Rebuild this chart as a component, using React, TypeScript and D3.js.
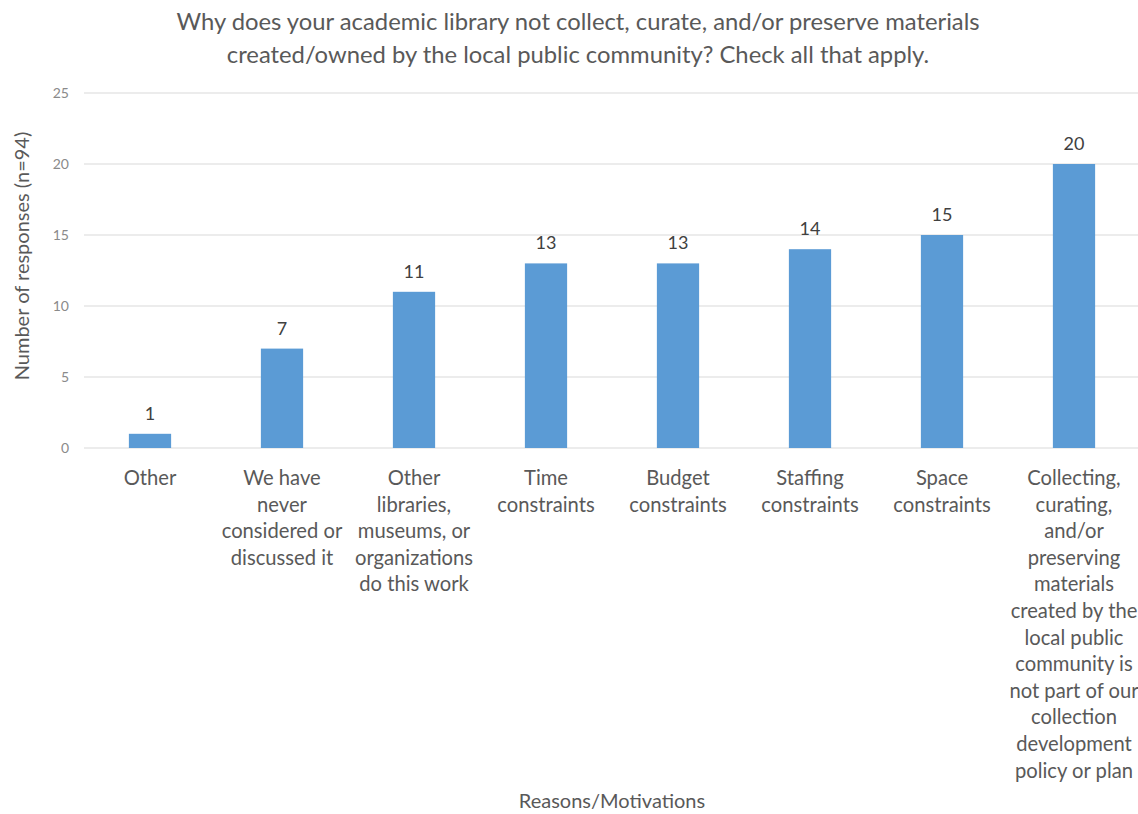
import React from "react";
import * as d3 from "d3";

const categories: string[][] = [
  ["Other"],
  ["We have", "never", "considered or", "discussed it"],
  ["Other", "libraries,", "museums, or", "organizations", "do this work"],
  ["Time", "constraints"],
  ["Budget", "constraints"],
  ["Staffing", "constraints"],
  ["Space", "constraints"],
  ["Collecting,", "curating,", "and/or", "preserving", "materials", "created by the", "local public", "community is", "not part of our", "collection", "development", "policy or plan"],
];
const values: number[] = [1, 7, 11, 13, 13, 14, 15, 20];
const yTicks: number[] = [0, 5, 10, 15, 20, 25];
const titleLines: string[] = [
  "Why does your academic library not collect, curate, and/or preserve materials",
  "created/owned by the local public community? Check all that apply.",
];
const yTitle = "Number of responses (n=94)";
const xTitle = "Reasons/Motivations";

const W = 1138;
const H = 814;
const FONT = "Lato, 'Open Sans', sans-serif";

export default function App() {
  const x = d3
    .scaleBand<number>()
    .domain(values.map((_, i) => i))
    .range([84, 1140])
    .paddingInner(0.68)
    .paddingOuter(0.34);
  const y = d3.scaleLinear().domain([0, 25]).range([448, 93]);

  return (
    <svg
      width={W}
      height={H}
      style={{ position: "absolute", left: 0, top: 0, background: "#fff" }}
      fontFamily={FONT}
    >
      <rect x={0} y={0} width={W} height={H} fill="#fff" />
      {titleLines.map((t, i) => (
        <text key={i} x={578} y={30 + i * 33} textAnchor="middle" fontSize={23.8} fill="#595959">
          {t}
        </text>
      ))}
      {yTicks.map((t) => (
        <g key={t}>
          <line x1={84} x2={1138} y1={y(t)} y2={y(t)} stroke="#d9d9d9" strokeWidth={1.2} />
          <text x={69} y={y(t) + 5} textAnchor="end" fontSize={14} fill="#8a8a8a">
            {t}
          </text>
        </g>
      ))}
      {values.map((v, i) => (
        <g key={i}>
          <rect x={x(i)} y={y(v)} width={x.bandwidth()} height={y(0) - y(v)} fill="#5b9bd5" />
          <text
            x={(x(i) as number) + x.bandwidth() / 2}
            y={y(v) - 14}
            textAnchor="middle"
            fontSize={18}
            fill="#404040"
          >
            {v}
          </text>
          {categories[i].map((line, j) => (
            <text
              key={j}
              x={(x(i) as number) + x.bandwidth() / 2}
              y={485 + j * 26.6}
              textAnchor="middle"
              fontSize={20.2}
              fill="#595959"
            >
              {line}
            </text>
          ))}
        </g>
      ))}
      <text
        transform={`translate(29,256) rotate(-90)`}
        textAnchor="middle"
        fontSize={20}
        fill="#595959"
      >
        {yTitle}
      </text>
      <text x={612} y={808} textAnchor="middle" fontSize={20} fill="#595959">
        {xTitle}
      </text>
    </svg>
  );
}
